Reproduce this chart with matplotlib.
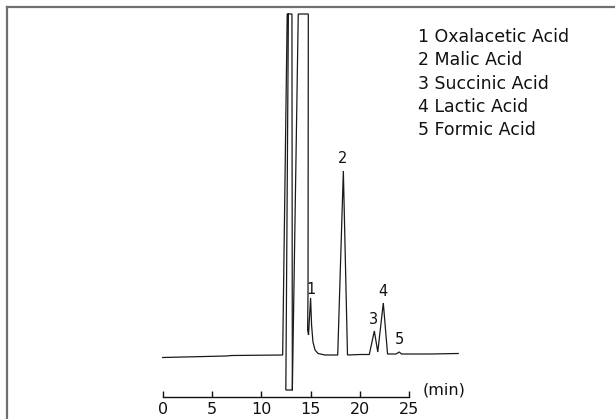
import matplotlib
matplotlib.use("Agg")
import matplotlib.pyplot as plt
from matplotlib.lines import Line2D

# ---- data (time in min, detector signal in arbitrary units; baseline = 0) ----
# main trace: baseline + first (clipped) solvent disturbance
trace_a_t = [0.0, 6.4, 7.0, 12.16, 12.62, 13.10, 13.14, 12.48, 12.74]
trace_a_s = [-2.5, -1.0, -0.5, 0.0, 341, 341, -35, -35, 341]
# continuation: second clipped peak, then analyte peaks 1-5 and baseline
trace_b_t = [13.14, 13.74, 14.76, 14.73, 14.69, 14.78, 14.99, 15.09, 15.23, 15.44,
             15.75, 16.45, 17.74, 18.31, 18.73, 20.0, 20.94, 21.45, 21.80, 22.36,
             22.79, 23.65, 23.98, 24.20, 27.1, 29.96]
trace_b_s = [-35, 341, 341, 65, 25, 20, 57, 30, 13, 5,
             1.5, 0, 0, 184, 0, 0.5, 0.5, 24, 3, 52,
             1, 1, 3, 1, 1, 1.5]

peak_ids = ["1", "2", "3", "4", "5"]
peak_label_t = [15.04, 18.27, 21.35, 22.36, 23.98]
peak_label_s = [65, 197, 36, 64, 15]

legend_lines = ["1 Oxalacetic Acid", "2 Malic Acid", "3 Succinic Acid",
                "4 Lactic Acid", "5 Formic Acid"]

x_ticks = [0, 5, 10, 15, 20, 25]
x_unit = "(min)"

# ---- figure ----
W, H = 615, 419
fig = plt.figure(figsize=(W / 100, H / 100), dpi=100)
fig.patch.set_facecolor("white")

def fx(px):
    return px / W

def fy(py):
    return 1 - py / H

ax = fig.add_axes([fx(162.7), fy(396.7), fx(470) - fx(162.7), fy(10) - fy(396.7)])
ax.set_xlim(0, (470 - 162.7) / 9.866)
ax.set_ylim(-41.7, 345)
ax.patch.set_alpha(0)

line_kw = dict(color="#1a1a1a", lw=0.9, solid_joinstyle="miter", clip_on=False)
ax.plot(trace_a_t, trace_a_s, **line_kw)
ax.plot(trace_b_t, trace_b_s, **line_kw)

for lab, t, s in zip(peak_ids, peak_label_t, peak_label_s):
    ax.text(t, s, lab, ha="center", va="center", fontsize=10.5,
            family="DejaVu Sans", color="#111111")

for sp in ["left", "right", "top"]:
    ax.spines[sp].set_visible(False)
ax.spines["bottom"].set_bounds(0, 25)
ax.spines["bottom"].set_linewidth(1.0)
ax.spines["bottom"].set_color("#111111")
ax.set_yticks([])
ax.set_xticks(x_ticks)
ax.set_xticklabels([str(v) for v in x_ticks], family="DejaVu Sans", fontsize=11.5)
ax.tick_params(axis="x", direction="in", length=4.5, width=1.0, pad=4,
               colors="#111111")

fig.text(fx(444), fy(390), x_unit, ha="center", va="center", fontsize=11.5,
         family="DejaVu Sans", color="#111111")

# legend text block
y0 = 37.0
dy = 23.3
for i, s in enumerate(legend_lines):
    fig.text(fx(418), fy(y0 + i * dy), s, ha="left", va="center", fontsize=12.5,
             family="DejaVu Sans", color="#111111")

# outer frame (top and left visible)
fig.add_artist(Line2D([fx(7), fx(640)], [fy(7), fy(7)], color="#707070", lw=1.6,
                      transform=fig.transFigure))
fig.add_artist(Line2D([fx(7), fx(7)], [fy(7), fy(440)], color="#707070", lw=1.6,
                      transform=fig.transFigure))

fig.savefig("out.png", dpi=100, facecolor="white")
